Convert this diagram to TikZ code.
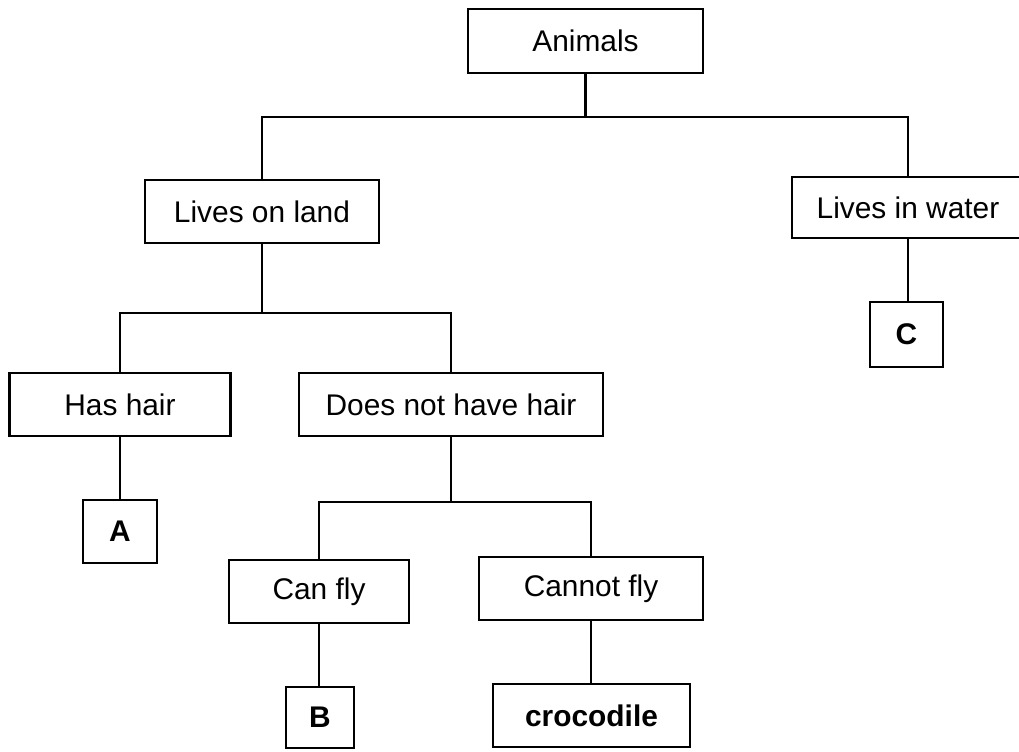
\documentclass[tikz,border=0pt]{standalone}
\usepackage{fontspec}
\setmainfont{Liberation Sans}
\begin{document}
\begin{tikzpicture}[x=0.03cm,y=-0.03cm,
  box/.style={draw=black,line width=2.4pt,rectangle,inner sep=0pt,
    font=\fontsize{25.5}{30}\selectfont,text=black},
  lbl/.style={box,font=\fontsize{25.5}{30}\selectfont\bfseries},
  conn/.style={draw=black,line width=2.1pt}]
\useasboundingbox[fill=white] (0,0) rectangle (1019,751);
\node[box,minimum width=235*0.03cm,minimum height=64*0.03cm] (animals) at (585.5,41) {Animals};
\node[box,minimum width=234*0.03cm,minimum height=63*0.03cm] (land) at (262,211.5) {Lives on land};
\node[box,minimum width=232*0.03cm,minimum height=61*0.03cm] (water) at (908,207.5) {Lives in water};
\node[box,minimum width=221*0.03cm,minimum height=63*0.03cm] (hair) at (120,404.5) {Has hair};
\node[box,minimum width=304*0.03cm,minimum height=63*0.03cm] (nohair) at (451,404.5) {Does not have hair};
\node[lbl,minimum width=73*0.03cm,minimum height=65*0.03cm] (c) at (906.5,334.5) {C};
\node[lbl,minimum width=74*0.03cm,minimum height=63*0.03cm] (a) at (120,531.5) {A};
\node[box,minimum width=180*0.03cm,minimum height=63*0.03cm] (canfly) at (319,591.5) {Can fly};
\node[box,minimum width=224*0.03cm,minimum height=63*0.03cm] (cannotfly) at (591,588.5) {Cannot fly};
\node[lbl,minimum width=68*0.03cm,minimum height=61*0.03cm] (b) at (320,717.5) {B};
\node[lbl,minimum width=197*0.03cm,minimum height=63*0.03cm] (croc) at (591.5,715.5) {crocodile};
\coordinate (j1) at (585.5,117);
\coordinate (j2) at (262,313);
\coordinate (j3) at (451,502);
% connectors
\draw[conn] (animals.south) -- (j1);
\draw[conn] (land.north) |- (j1) -| (water.north);
\draw[conn] (water.south) -- (c.north -| water.south);
\draw[conn] (land.south) -- (j2);
\draw[conn] (hair.north) |- (j2) -| (nohair.north);
\draw[conn] (hair.south) -- (a.north);
\draw[conn] (nohair.south) -- (j3);
\draw[conn] (canfly.north) |- (j3) -| (cannotfly.north);
\draw[conn] (canfly.south) -- (b.north -| canfly.south);
\draw[conn] (cannotfly.south) -- (croc.north -| cannotfly.south);
\end{tikzpicture}
\end{document}
